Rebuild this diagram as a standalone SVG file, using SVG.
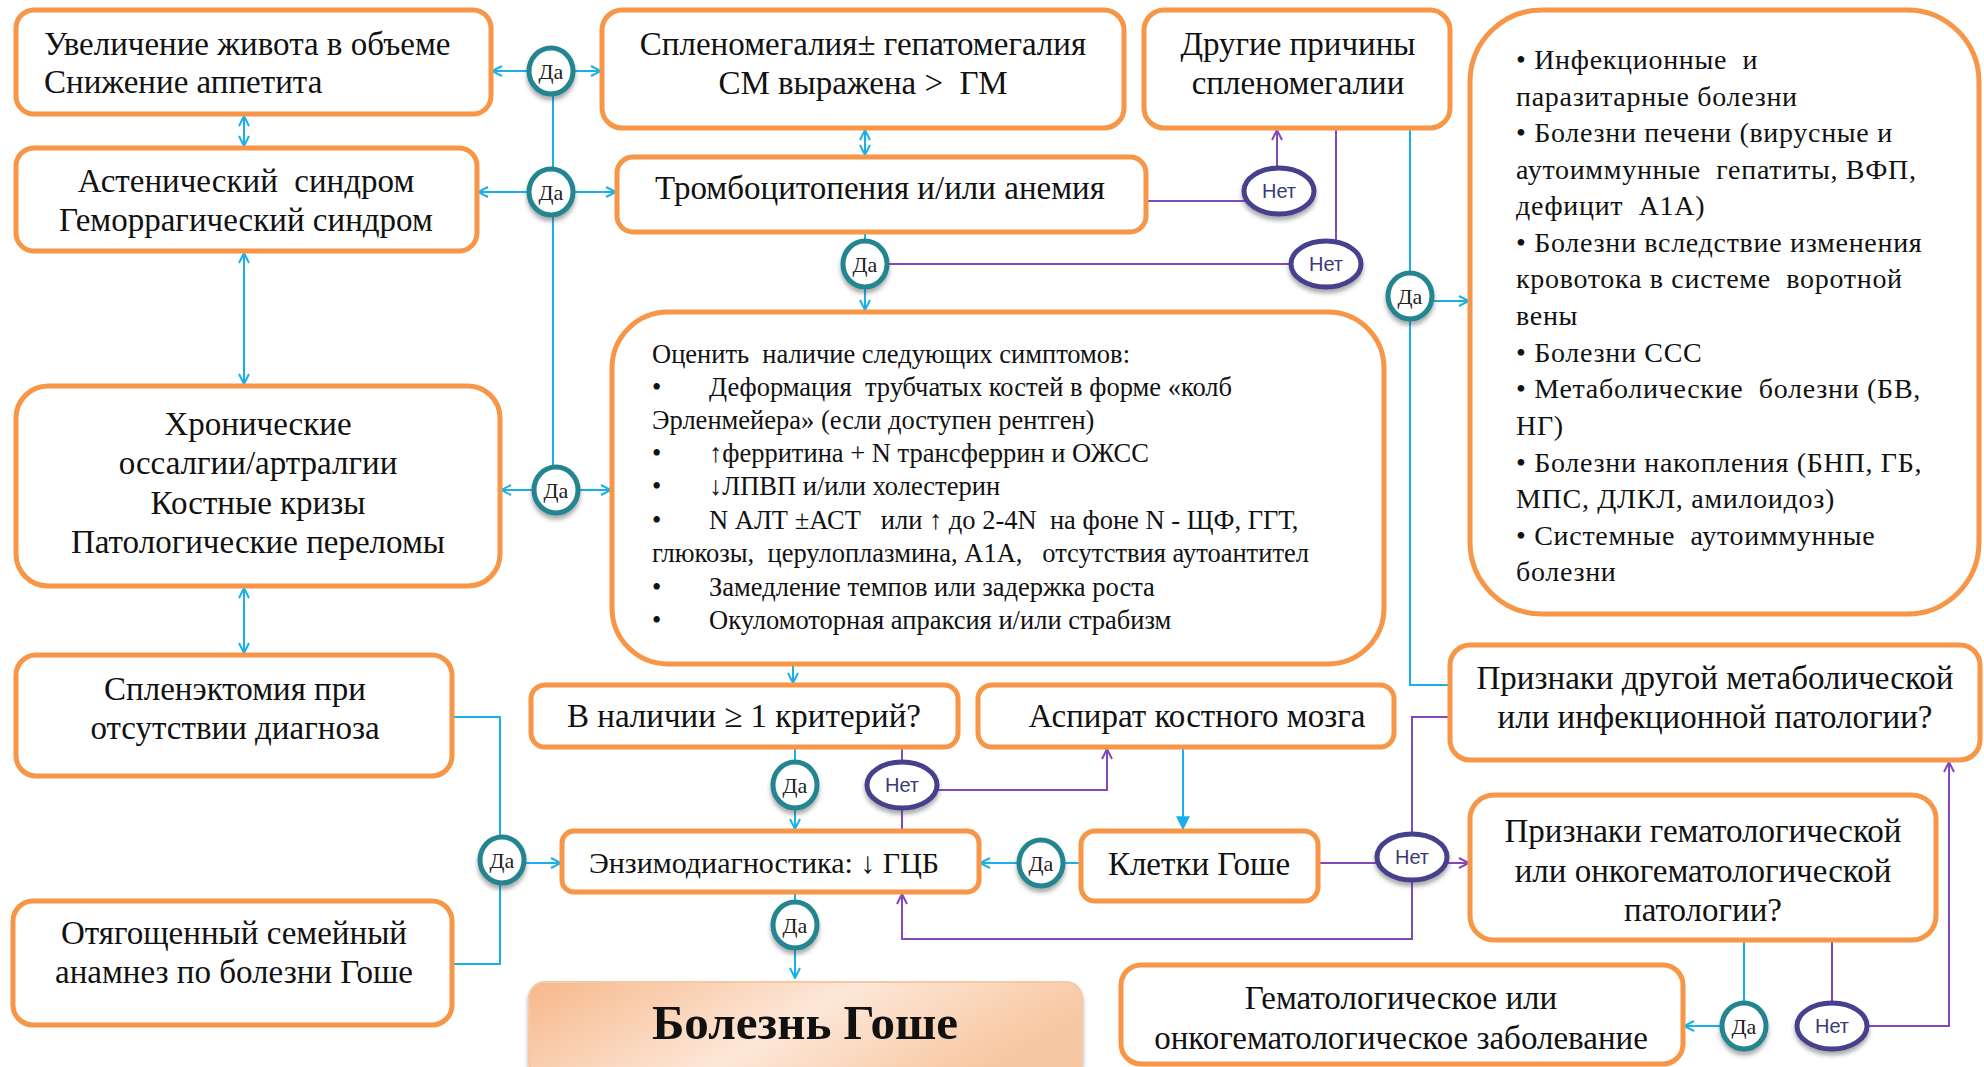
<svg xmlns="http://www.w3.org/2000/svg" width="1984" height="1067" viewBox="0 0 1984 1067" xml:space="preserve">
<defs>
<style>
.box{fill:#fff;stroke:#f79646;stroke-width:5}
.t{font-family:"Liberation Serif","Times New Roman",serif;fill:#111;dominant-baseline:central;white-space:pre}
.m{font-size:33px;text-anchor:middle}
.l{font-size:33px}
.o{font-size:26.5px}
.s{font-size:28px;letter-spacing:0.7px}
.c{stroke:#19b0ea;stroke-width:2;fill:none}
.p{stroke:#8448bd;stroke-width:2;fill:none}
.da ellipse{fill:#fff;stroke:#20858f;stroke-width:5;filter:url(#sh)}
.net ellipse{fill:#fff;stroke:#463f8c;stroke-width:5;filter:url(#sh)}
.dt{font-family:"Liberation Serif","Times New Roman",serif;font-size:22px;fill:#222;text-anchor:middle;dominant-baseline:central}
.nt{font-family:"Liberation Sans",Arial,sans-serif;font-size:20px;fill:#3a3a78;text-anchor:middle;dominant-baseline:central}
</style>
<filter id="sh" x="-50%" y="-50%" width="200%" height="200%"><feDropShadow dx="0" dy="4" stdDeviation="2" flood-color="#444" flood-opacity="0.45"/></filter>
<marker id="ab" viewBox="0 0 12 12" refX="11" refY="6" markerWidth="12" markerHeight="12" markerUnits="userSpaceOnUse" orient="auto-start-reverse"><path d="M1,1 L11,6 L1,11" fill="none" stroke="#19b0ea" stroke-width="2"/></marker>
<marker id="abf" viewBox="0 0 12 12" refX="11" refY="6" markerWidth="14" markerHeight="16" markerUnits="userSpaceOnUse" orient="auto"><path d="M0,0 L12,6 L0,12 Z" fill="#19b0ea"/></marker>
<marker id="ap" viewBox="0 0 12 12" refX="11" refY="6" markerWidth="12" markerHeight="12" markerUnits="userSpaceOnUse" orient="auto"><path d="M1,1 L11,6 L1,11" fill="none" stroke="#8448bd" stroke-width="2"/></marker>
<linearGradient id="gg" x1="0" y1="0" x2="1" y2="0.3">
<stop offset="0" stop-color="#f6b88a"/><stop offset="0.55" stop-color="#fde7d8"/><stop offset="1" stop-color="#f8c8a2"/>
</linearGradient>
</defs>
<rect width="1984" height="1067" fill="#fff"/>

<g id="connectors">
<path class="c" d="M553,71 V490"/>
<path class="c" d="M527,71 H492" marker-end="url(#ab)"/>
<path class="c" d="M573,71 H601" marker-end="url(#ab)"/>
<path class="c" d="M527,192 H478" marker-end="url(#ab)"/>
<path class="c" d="M573,192 H616" marker-end="url(#ab)"/>
<path class="c" d="M534,490 H501" marker-end="url(#ab)"/>
<path class="c" d="M578,490 H611" marker-end="url(#ab)"/>
<path class="c" d="M244,116 V146" marker-start="url(#ab)" marker-end="url(#ab)"/>
<path class="c" d="M865,130 V155" marker-start="url(#ab)" marker-end="url(#ab)"/>
<path class="c" d="M244,253 V384" marker-start="url(#ab)" marker-end="url(#ab)"/>
<path class="c" d="M244,588 V653" marker-start="url(#ab)" marker-end="url(#ab)"/>
<path class="c" d="M865,232 V250"/>
<path class="c" d="M865,280 V310" marker-end="url(#ab)"/>
<path class="c" d="M793,664 V683" marker-end="url(#ab)"/>
<path class="c" d="M795,747 V770"/>
<path class="c" d="M795,800 V829" marker-end="url(#ab)"/>
<path class="c" d="M795,892 V910"/>
<path class="c" d="M795,940 V978" marker-end="url(#ab)"/>
<path class="c" d="M452,717 H500 V840"/>
<path class="c" d="M452,964 H500 V880"/>
<path class="c" d="M524,863 H561" marker-end="url(#ab)"/>
<path class="c" d="M1183,747 V829" marker-end="url(#abf)"/>
<path class="c" d="M1081,863 H1063"/>
<path class="c" d="M1019,863 H980" marker-end="url(#ab)"/>
<path class="c" d="M1410,128 V685 H1450"/>
<path class="c" d="M1432,301 H1469" marker-end="url(#ab)"/>
<path class="c" d="M1744,940 V1010"/>
<path class="c" d="M1722,1026 H1684" marker-end="url(#ab)"/>
<path class="p" d="M1146,201 H1250"/>
<path class="p" d="M1277,170 V130" marker-end="url(#ap)"/>
<path class="p" d="M887,264 H1295"/>
<path class="p" d="M1336,245 V128"/>
<path class="p" d="M902,747 V831"/>
<path class="p" d="M937,790 H1107 V749" marker-end="url(#ap)"/>
<path class="p" d="M1318,863 H1380"/>
<path class="p" d="M1447,863 H1469" marker-end="url(#ap)"/>
<path class="p" d="M1412,834 V717 H1450"/>
<path class="p" d="M1412,880 V939 H902 V894" marker-end="url(#ap)"/>
<path class="p" d="M1832,940 V1005"/>
<path class="p" d="M1867,1026 H1949 V762" marker-end="url(#ap)"/>
</g>

<g id="n1"><rect class="box" x="16" y="10" width="475" height="104" rx="18"/>
<text class="t l" x="44" y="44">Увеличение живота в объеме</text>
<text class="t l" x="44" y="82">Снижение аппетита</text></g>

<g id="n2"><rect class="box" x="16" y="148" width="461" height="103" rx="18"/>
<text class="t m" x="246" y="181">Астенический  синдром</text>
<text class="t m" x="246" y="220">Геморрагический синдром</text></g>

<g id="n3"><rect class="box" x="16" y="386" width="484" height="200" rx="32"/>
<text class="t m" x="258" y="424">Хронические</text>
<text class="t m" x="258" y="463">оссалгии/артралгии</text>
<text class="t m" x="258" y="503">Костные кризы</text>
<text class="t m" x="258" y="542">Патологические переломы</text></g>

<g id="n4"><rect class="box" x="16" y="655" width="436" height="121" rx="20"/>
<text class="t m" x="235" y="689">Спленэктомия при</text>
<text class="t m" x="235" y="728">отсутствии диагноза</text></g>

<g id="n5"><rect class="box" x="13" y="901" width="439" height="124" rx="20"/>
<text class="t m" x="234" y="933">Отягощенный семейный</text>
<text class="t m" x="234" y="972">анамнез по болезни Гоше</text></g>

<g id="n6"><rect class="box" x="602" y="10" width="522" height="118" rx="20"/>
<text class="t m" x="863" y="44">Спленомегалия± гепатомегалия</text>
<text class="t m" x="863" y="83">СМ выражена &gt;  ГМ</text></g>

<g id="n7"><rect class="box" x="617" y="157" width="529" height="75" rx="16"/>
<text class="t m" x="880" y="188">Тромбоцитопения и/или анемия</text></g>

<g id="n8"><rect class="box" x="1144" y="10" width="306" height="118" rx="20"/>
<text class="t m" x="1298" y="44">Другие причины</text>
<text class="t m" x="1298" y="83">спленомегалии</text></g>

<g id="n9"><rect class="box" x="1470" y="10" width="509" height="604" rx="72"/>
<text class="t s" x="1516" y="59">• Инфекционные  и</text>
<text class="t s" x="1516" y="96">паразитарные болезни</text>
<text class="t s" x="1516" y="132">• Болезни печени (вирусные и</text>
<text class="t s" x="1516" y="169">аутоиммунные  гепатиты, ВФП,</text>
<text class="t s" x="1516" y="205">дефицит  А1А)</text>
<text class="t s" x="1516" y="242">• Болезни вследствие изменения</text>
<text class="t s" x="1516" y="278">кровотока в системе  воротной</text>
<text class="t s" x="1516" y="315">вены</text>
<text class="t s" x="1516" y="352">• Болезни ССС</text>
<text class="t s" x="1516" y="388">• Метаболические  болезни (БВ,</text>
<text class="t s" x="1516" y="425">НГ)</text>
<text class="t s" x="1516" y="462">• Болезни накопления (БНП, ГБ,</text>
<text class="t s" x="1516" y="498">МПС, ДЛКЛ, амилоидоз)</text>
<text class="t s" x="1516" y="535">• Системные  аутоиммунные</text>
<text class="t s" x="1516" y="571">болезни</text></g>

<g id="n10"><rect class="box" x="612" y="312" width="772" height="352" rx="56"/>
<text class="t o" x="652" y="354">Оценить  наличие следующих симптомов:</text>
<text class="t o" x="652" y="387">•</text><text class="t o" x="709" y="387">Деформация  трубчатых костей в форме «колб</text>
<text class="t o" x="652" y="420">Эрленмейера» (если доступен рентген)</text>
<text class="t o" x="652" y="453">•</text><text class="t o" x="709" y="453">↑ферритина + N трансферрин и ОЖСС</text>
<text class="t o" x="652" y="486">•</text><text class="t o" x="709" y="486">↓ЛПВП и/или холестерин</text>
<text class="t o" x="652" y="520">•</text><text class="t o" x="709" y="520">N АЛТ ±АСТ   или ↑ до 2-4N  на фоне N - ЩФ, ГГТ,</text>
<text class="t o" x="652" y="553">глюкозы,  церулоплазмина, А1А,   отсутствия аутоантител</text>
<text class="t o" x="652" y="587">•</text><text class="t o" x="709" y="587">Замедление темпов или задержка роста</text>
<text class="t o" x="652" y="620">•</text><text class="t o" x="709" y="620">Окуломоторная апраксия и/или страбизм</text></g>

<g id="n11"><rect class="box" x="531" y="685" width="427" height="62" rx="14"/>
<text class="t m" x="744" y="716">В наличии ≥ 1 критерий?</text></g>

<g id="n12"><rect class="box" x="978" y="685" width="416" height="62" rx="14"/>
<text class="t m" x="1197" y="716">Аспират костного мозга</text></g>

<g id="n13"><rect class="box" x="562" y="831" width="417" height="61" rx="12"/>
<text class="t m" x="764" y="862" style="font-size:30px">Энзимодиагностика: ↓ ГЦБ</text></g>

<g id="n14"><rect class="box" x="1081" y="831" width="237" height="70" rx="14"/>
<text class="t m" x="1199" y="864">Клетки Гоше</text></g>

<g id="n15"><rect class="box" x="1450" y="645" width="530" height="115" rx="20"/>
<text class="t m" x="1715" y="678">Признаки другой метаболической</text>
<text class="t m" x="1715" y="717">или инфекционной патологии?</text></g>

<g id="n16"><rect class="box" x="1470" y="795" width="466" height="145" rx="24"/>
<text class="t m" x="1703" y="831">Признаки гематологической</text>
<text class="t m" x="1703" y="871">или онкогематологической</text>
<text class="t m" x="1703" y="910">патологии?</text></g>

<g id="n17"><rect class="box" x="1121" y="965" width="562" height="99" rx="20"/>
<text class="t m" x="1401" y="998">Гематологическое или</text>
<text class="t m" x="1401" y="1038">онкогематологическое заболевание</text></g>

<g id="n18"><rect x="529" y="982" width="553" height="95" rx="16" fill="url(#gg)" stroke="#f3c9a6" stroke-width="2" filter="url(#sh)"/>
<text class="t" x="805" y="1022" style="font-size:49px;font-weight:bold;text-anchor:middle">Болезнь Гоше</text></g>

<g id="d1" class="da"><ellipse cx="551" cy="71" rx="22" ry="23"/><text class="dt" x="551" y="71">Да</text></g>
<g id="d2" class="da"><ellipse cx="551" cy="192" rx="22" ry="23"/><text class="dt" x="551" y="192">Да</text></g>
<g id="d3" class="da"><ellipse cx="556" cy="490" rx="22" ry="23"/><text class="dt" x="556" y="490">Да</text></g>
<g id="d4" class="da"><ellipse cx="502" cy="860" rx="22" ry="23"/><text class="dt" x="502" y="860">Да</text></g>
<g id="d5" class="da"><ellipse cx="865" cy="264" rx="22" ry="23"/><text class="dt" x="865" y="264">Да</text></g>
<g id="d6" class="da"><ellipse cx="795" cy="785" rx="22" ry="23"/><text class="dt" x="795" y="785">Да</text></g>
<g id="d7" class="da"><ellipse cx="1041" cy="863" rx="22" ry="23"/><text class="dt" x="1041" y="863">Да</text></g>
<g id="d8" class="da"><ellipse cx="1744" cy="1026" rx="22" ry="23"/><text class="dt" x="1744" y="1026">Да</text></g>
<g id="d9" class="da"><ellipse cx="795" cy="925" rx="22" ry="23"/><text class="dt" x="795" y="925">Да</text></g>
<g id="d10" class="da"><ellipse cx="1410" cy="296" rx="22" ry="23"/><text class="dt" x="1410" y="296">Да</text></g>

<g id="no1" class="net"><ellipse cx="902" cy="785" rx="35" ry="23"/><text class="nt" x="902" y="785">Нет</text></g>
<g id="no2" class="net"><ellipse cx="1412" cy="857" rx="35" ry="23"/><text class="nt" x="1412" y="857">Нет</text></g>
<g id="no3" class="net"><ellipse cx="1832" cy="1026" rx="35" ry="23"/><text class="nt" x="1832" y="1026">Нет</text></g>
<g id="no4" class="net"><ellipse cx="1279" cy="191" rx="35" ry="23"/><text class="nt" x="1279" y="191">Нет</text></g>
<g id="no5" class="net"><ellipse cx="1326" cy="264" rx="35" ry="23"/><text class="nt" x="1326" y="264">Нет</text></g>
</svg>
